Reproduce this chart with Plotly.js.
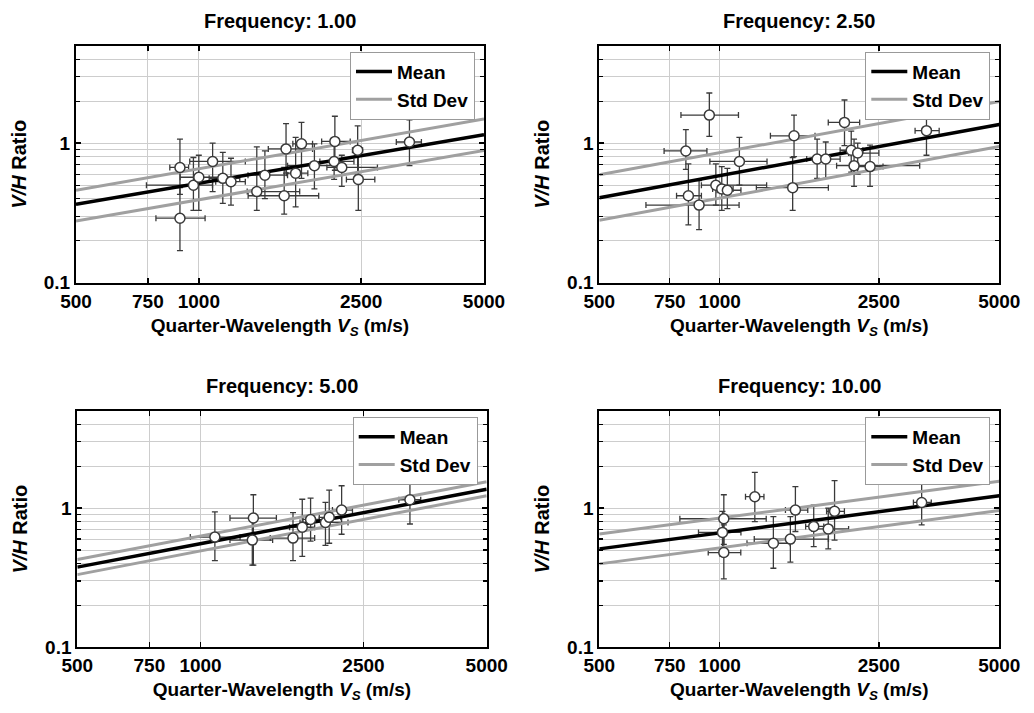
<!DOCTYPE html>
<html>
<head>
<meta charset="utf-8">
<script src="https://cdn.plot.ly/plotly-3.0.1.min.js"></script>
<style>html,body{margin:0;padding:0;background:#fff;}#chart{width:1034px;height:713px;}</style>
</head>
<body>
<div id="chart"></div>
<script>
// ---------- Tick labels ----------
const vsTickVals = [500, 750, 1000, 2500, 5000];
const vsTickText = ['500', '750', '1000', '2500', '5000'];
const vhTickVals = [0.1, 1];
const vhTickText = ['0.1', '1'];
const vhMinorVals = [0.2, 0.3, 0.4, 0.5, 0.6, 0.7, 0.8, 0.9, 2, 3, 4];
const panelTitles = ['Frequency: 1.00', 'Frequency: 2.50', 'Frequency: 5.00', 'Frequency: 10.00'];

// ---------- Fit lines (Vs at ends, V/H values) ----------
const lineVs = [500, 5000];
const f1Mean = [0.365, 1.15], f1Upper = [0.46, 1.49], f1Lower = [0.277, 0.887];
const f2Mean = [0.407, 1.36], f2Upper = [0.594, 1.99], f2Lower = [0.28, 0.946];
const f3Mean = [0.377, 1.37], f3Upper = [0.428, 1.55], f3Lower = [0.333, 1.23];
const f4Mean = [0.51, 1.23], f4Upper = [0.653, 1.56], f4Lower = [0.398, 0.962];

// ---------- Frequency 1.00 ----------
const f1Vs   = [899, 899, 970, 1000, 1081, 1145, 1199, 1387, 1452, 1619, 1636, 1727, 1785, 1920, 2146, 2155, 2241, 2451, 2460, 3283];
const f1Vh   = [0.67, 0.29, 0.50, 0.57, 0.74, 0.56, 0.53, 0.45, 0.59, 0.42, 0.91, 0.61, 0.99, 0.69, 0.74, 1.03, 0.67, 0.89, 0.55, 1.02];
const f1VhLo = [0.43, 0.17, 0.33, 0.33, 0.45, 0.37, 0.36, 0.33, 0.40, 0.31, 0.61, 0.35, 0.56, 0.47, 0.55, 0.64, 0.49, 0.60, 0.33, 0.69];
const f1VhHi = [1.07, 0.48, 0.79, 0.82, 1.00, 0.86, 0.78, 0.94, 0.88, 0.67, 1.38, 1.10, 1.41, 0.99, 1.00, 1.56, 0.82, 1.33, 0.89, 1.47];
const f1VsLo = [849, 785, 744, 900, 950, 1060, 1100, 1314, 1320, 1321, 1480, 1640, 1700, 1650, 1980, 2000, 2060, 2380, 2300, 3048];
const f1VsHi = [944, 1036, 1080, 1120, 1300, 1260, 1300, 1767, 1650, 1967, 1900, 1850, 1900, 2200, 2400, 2350, 2740, 2520, 2700, 3512];

// ---------- Frequency 2.50 ----------
const f2Vs   = [942, 823, 835, 888, 978, 1012, 1045, 1120, 1534, 1522, 1752, 1841, 2051, 2132, 2213, 2167, 2376, 3288];
const f2Vh   = [1.59, 0.88, 0.42, 0.36, 0.50, 0.47, 0.46, 0.74, 1.13, 0.48, 0.77, 0.77, 1.41, 0.89, 0.85, 0.69, 0.68, 1.23];
const f2VhLo = [1.12, 0.65, 0.26, 0.24, 0.36, 0.33, 0.34, 0.50, 0.80, 0.33, 0.56, 0.56, 0.96, 0.62, 0.60, 0.49, 0.49, 0.82];
const f2VhHi = [2.29, 1.25, 0.71, 0.54, 0.71, 0.68, 0.66, 1.10, 1.59, 0.79, 1.07, 1.02, 2.04, 1.22, 1.00, 1.07, 0.97, 1.81];
const f2VsLo = [800, 726, 780, 654, 900, 960, 985, 945, 1339, 1235, 1650, 1750, 1868, 2000, 2100, 1960, 2220, 3079];
const f2VsHi = [1114, 929, 900, 1118, 1310, 1080, 1130, 1313, 1731, 1869, 1870, 2000, 2238, 2280, 2500, 3162, 2560, 3537];

// ---------- Frequency 5.00 ----------
const f3Vs   = [1084, 1346, 1338, 1682, 1772, 1857, 2019, 2062, 2211, 3247];
const f3Vh   = [0.62, 0.85, 0.59, 0.61, 0.73, 0.83, 0.79, 0.86, 0.97, 1.15];
const f3VhLo = [0.42, 0.39, 0.39, 0.42, 0.45, 0.58, 0.54, 0.56, 0.65, 0.77];
const f3VhHi = [0.94, 1.25, 0.85, 0.93, 1.16, 1.18, 1.10, 1.35, 1.45, 1.71];
const f3VsLo = [944, 1180, 1180, 1480, 1650, 1780, 1750, 1950, 2100, 3050];
const f3VsHi = [1249, 1532, 1500, 1900, 1900, 1950, 2292, 2200, 2350, 3450];

// ---------- Frequency 10.00 ----------
const f4Vs   = [1024, 1016, 1024, 1224, 1362, 1502, 1546, 1718, 1868, 1937, 3198];
const f4Vh   = [0.84, 0.67, 0.48, 1.21, 0.56, 0.60, 0.97, 0.74, 0.71, 0.95, 1.10];
const f4VhLo = [0.55, 0.45, 0.31, 0.80, 0.37, 0.41, 0.68, 0.53, 0.51, 0.59, 0.76];
const f4VhHi = [1.25, 0.95, 0.76, 1.81, 0.87, 0.87, 1.43, 1.05, 1.00, 1.58, 1.60];
const f4VsLo = [795, 885, 936, 1160, 1170, 1220, 1460, 1640, 1700, 1850, 3050];
const f4VsHi = [1307, 1130, 1129, 1290, 1500, 1870, 1660, 1820, 2100, 2050, 3380];

const FONT = 'Liberation Sans, Arial, Helvetica, sans-serif';
const GREY_LINE = '#a0a0a0';
const BAR = '#3a3a3a';
const GRID = '#cdcdcd';

const panels = [
  {vs: f1Vs, vh: f1Vh, vhLo: f1VhLo, vhHi: f1VhHi, vsLo: f1VsLo, vsHi: f1VsHi, mean: f1Mean, up: f1Upper, lo: f1Lower,
   dx: [76/1034, 484/1034], dy: [1-282.7/713, 1-45.7/713]},
  {vs: f2Vs, vh: f2Vh, vhLo: f2VhLo, vhHi: f2VhHi, vsLo: f2VsLo, vsHi: f2VsHi, mean: f2Mean, up: f2Upper, lo: f2Lower,
   dx: [599.3/1034, 999.3/1034], dy: [1-282.7/713, 1-45.7/713]},
  {vs: f3Vs, vh: f3Vh, vhLo: f3VhLo, vhHi: f3VhHi, vsLo: f3VsLo, vsHi: f3VsHi, mean: f3Mean, up: f3Upper, lo: f3Lower,
   dx: [77.3/1034, 486.7/1034], dy: [1-647.3/713, 1-411/713]},
  {vs: f4Vs, vh: f4Vh, vhLo: f4VhLo, vhHi: f4VhHi, vsLo: f4VsLo, vsHi: f4VsHi, mean: f4Mean, up: f4Upper, lo: f4Lower,
   dx: [599.3/1034, 999.3/1034], dy: [1-647.3/713, 1-411/713]}
];

const traces = [];
const layout = {
  width: 1034, height: 713,
  margin: {l: 0, r: 0, t: 0, b: 0},
  paper_bgcolor: '#fff', plot_bgcolor: '#fff',
  font: {family: FONT, size: 19, color: '#000'},
  showlegend: true,
  annotations: []
};

panels.forEach((p, i) => {
  const n = i + 1;
  const xa = n === 1 ? 'x' : 'x' + n;
  const ya = n === 1 ? 'y' : 'y' + n;
  const lg = n === 1 ? 'legend' : 'legend' + n;

  // error bars
  traces.push({
    type: 'scatter', mode: 'markers', xaxis: xa, yaxis: ya, showlegend: false, hoverinfo: 'skip',
    x: p.vs, y: p.vh,
    marker: {size: 10, color: 'rgba(0,0,0,0)'},
    error_x: {type: 'data', symmetric: false,
      array: p.vsHi.map((h, k) => h - p.vs[k]), arrayminus: p.vsLo.map((l, k) => p.vs[k] - l),
      color: BAR, thickness: 1.3, width: 3},
    error_y: {type: 'data', symmetric: false,
      array: p.vhHi.map((h, k) => h - p.vh[k]), arrayminus: p.vhLo.map((l, k) => p.vh[k] - l),
      color: BAR, thickness: 1.3, width: 3}
  });
  // fit lines
  traces.push({type: 'scatter', mode: 'lines', xaxis: xa, yaxis: ya, legend: lg, name: '<b>Mean</b>',
    x: lineVs, y: p.mean, line: {color: '#000', width: 3.5}});
  traces.push({type: 'scatter', mode: 'lines', xaxis: xa, yaxis: ya, legend: lg, name: '<b>Std Dev</b>',
    x: lineVs, y: p.up, line: {color: GREY_LINE, width: 3}});
  traces.push({type: 'scatter', mode: 'lines', xaxis: xa, yaxis: ya, legend: lg, showlegend: false,
    x: lineVs, y: p.lo, line: {color: GREY_LINE, width: 3}});
  // markers
  traces.push({type: 'scatter', mode: 'markers', xaxis: xa, yaxis: ya, showlegend: false,
    x: p.vs, y: p.vh,
    marker: {symbol: 'circle', size: 10, color: '#fff', line: {color: BAR, width: 1.5}}});

  const axBase = {
    type: 'log', showline: true, linecolor: '#000', linewidth: 2, mirror: 'ticks',
    ticks: 'inside', ticklen: 5, tickwidth: 1.5, tickcolor: '#000',
    showgrid: true, gridcolor: GRID, gridwidth: 1, zeroline: false,
    tickfont: {family: FONT, size: 19, weight: 'bold', color: '#000'}
  };
  layout['xaxis' + (n === 1 ? '' : n)] = Object.assign({}, axBase, {
    domain: p.dx, anchor: ya, range: [Math.log10(500), Math.log10(5000)],
    tickmode: 'array', tickvals: vsTickVals, ticktext: vsTickText,
    title: {text: 'Quarter-Wavelength <i>V</i><sub><i>S</i></sub> (m/s)', font: {family: FONT, size: 19, weight: 'bold'}, standoff: 8}
  });
  layout['yaxis' + (n === 1 ? '' : n)] = Object.assign({}, axBase, {
    domain: p.dy, anchor: xa, range: [-1, Math.log10(5)],
    tickmode: 'array', tickvals: vhTickVals, ticktext: vhTickText,
    minor: {tickmode: 'array', tickvals: vhMinorVals, ticks: 'inside', ticklen: 4, tickwidth: 1.2, tickcolor: '#000',
            showgrid: true, gridcolor: GRID, gridwidth: 1},
    title: {text: '<i>V/H</i> Ratio', font: {family: FONT, size: 20, weight: 'bold'}, standoff: 12}
  });
  layout[lg] = {
    xref: 'paper', yref: 'paper',
    x: p.dx[1] - 9/1034, xanchor: 'right',
    y: p.dy[1] - 6/713, yanchor: 'top',
    bgcolor: '#fff', bordercolor: '#999', borderwidth: 1,
    font: {family: FONT, size: 19, color: '#000'},
    tracegroupgap: 0, itemwidth: 36
  };
  layout.annotations.push({
    xref: 'paper', yref: 'paper', x: (p.dx[0] + p.dx[1]) / 2, y: p.dy[1] + 25/713,
    xanchor: 'center', yanchor: 'middle', showarrow: false,
    text: '<b>' + panelTitles[i] + '</b>', font: {family: FONT, size: 20, color: '#000'}
  });
});

Plotly.newPlot('chart', traces, layout, {staticPlot: true, displayModeBar: false});
</script>
</body>
</html>
